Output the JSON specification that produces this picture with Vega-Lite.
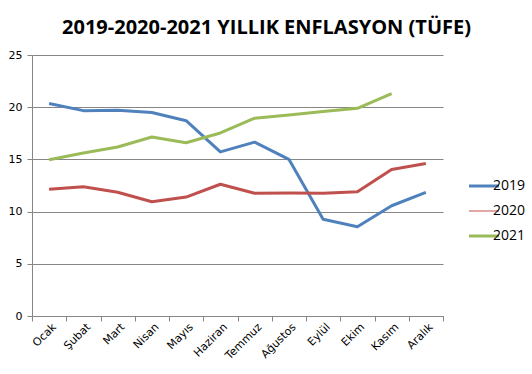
{
  "$schema": "https://vega.github.io/schema/vega-lite/v6.json",
  "width": 411,
  "height": 261,
  "autosize": "none",
  "padding": {"left": 32, "top": 55, "right": 89, "bottom": 58},
  "background": "white",
  "title": {
    "text": "2019-2020-2021 YILLIK ENFLASYON (TÜFE)",
    "font": "Open Sans",
    "fontSize": 20,
    "fontWeight": "bold",
    "color": "#000000",
    "anchor": "middle",
    "dx": 29,
    "offset": 11
  },
  "data": {
    "values": [
      {"ay": "Ocak", "yil": "2019", "deger": 20.35},
      {"ay": "Şubat", "yil": "2019", "deger": 19.67},
      {"ay": "Mart", "yil": "2019", "deger": 19.71},
      {"ay": "Nisan", "yil": "2019", "deger": 19.50},
      {"ay": "Mayıs", "yil": "2019", "deger": 18.71},
      {"ay": "Haziran", "yil": "2019", "deger": 15.72},
      {"ay": "Temmuz", "yil": "2019", "deger": 16.65},
      {"ay": "Ağustos", "yil": "2019", "deger": 15.01},
      {"ay": "Eylül", "yil": "2019", "deger": 9.26},
      {"ay": "Ekim", "yil": "2019", "deger": 8.55},
      {"ay": "Kasım", "yil": "2019", "deger": 10.56},
      {"ay": "Aralık", "yil": "2019", "deger": 11.84},
      {"ay": "Ocak", "yil": "2020", "deger": 12.15},
      {"ay": "Şubat", "yil": "2020", "deger": 12.37},
      {"ay": "Mart", "yil": "2020", "deger": 11.86},
      {"ay": "Nisan", "yil": "2020", "deger": 10.94},
      {"ay": "Mayıs", "yil": "2020", "deger": 11.39},
      {"ay": "Haziran", "yil": "2020", "deger": 12.62},
      {"ay": "Temmuz", "yil": "2020", "deger": 11.76},
      {"ay": "Ağustos", "yil": "2020", "deger": 11.77},
      {"ay": "Eylül", "yil": "2020", "deger": 11.75},
      {"ay": "Ekim", "yil": "2020", "deger": 11.89},
      {"ay": "Kasım", "yil": "2020", "deger": 14.03},
      {"ay": "Aralık", "yil": "2020", "deger": 14.60},
      {"ay": "Ocak", "yil": "2021", "deger": 14.97},
      {"ay": "Şubat", "yil": "2021", "deger": 15.61},
      {"ay": "Mart", "yil": "2021", "deger": 16.19},
      {"ay": "Nisan", "yil": "2021", "deger": 17.14},
      {"ay": "Mayıs", "yil": "2021", "deger": 16.59},
      {"ay": "Haziran", "yil": "2021", "deger": 17.53},
      {"ay": "Temmuz", "yil": "2021", "deger": 18.95},
      {"ay": "Ağustos", "yil": "2021", "deger": 19.25},
      {"ay": "Eylül", "yil": "2021", "deger": 19.58},
      {"ay": "Ekim", "yil": "2021", "deger": 19.89},
      {"ay": "Kasım", "yil": "2021", "deger": 21.31}
    ]
  },
  "mark": {"type": "line", "strokeWidth": 3, "strokeJoin": "round", "strokeCap": "butt"},
  "encoding": {
    "x": {
      "field": "ay",
      "type": "ordinal",
      "sort": ["Ocak", "Şubat", "Mart", "Nisan", "Mayıs", "Haziran", "Temmuz", "Ağustos", "Eylül", "Ekim", "Kasım", "Aralık"],
      "scale": {"type": "band", "paddingInner": 0, "paddingOuter": 0},
      "axis": {
        "title": null,
        "labelAngle": -45,
        "labelAlign": "right",
        "labelBaseline": "middle",
        "labelFont": "DejaVu Sans",
        "labelFontSize": 11,
        "labelColor": "#000000",
        "labelPadding": 4,
        "labelOffset": 5,
        "bandPosition": 0,
        "tickBand": "extent",
        "domainColor": "#868686",
        "tickColor": "#868686",
        "tickSize": 5,
        "grid": false
      }
    },
    "y": {
      "field": "deger",
      "type": "quantitative",
      "scale": {"domain": [0, 25], "nice": false, "zero": true},
      "axis": {
        "title": null,
        "values": [0, 5, 10, 15, 20, 25],
        "labelFont": "DejaVu Sans",
        "labelFontSize": 11,
        "labelColor": "#000000",
        "labelPadding": 5,
        "domainColor": "#868686",
        "tickColor": "#868686",
        "tickSize": 5,
        "gridColor": "#868686",
        "gridOpacity": 1
      }
    },
    "color": {
      "field": "yil",
      "type": "nominal",
      "scale": {"domain": ["2019", "2020", "2021"], "range": ["#4F81BD", "#C0504D", "#9BBB59"]},
      "legend": {
        "title": null,
        "orient": "none",
        "legendX": 445,
        "legendY": 124,
        "symbolType": "stroke",
        "symbolSize": 900,
        "symbolStrokeWidth": 3,
        "labelFont": "Open Sans",
        "labelFontSize": 14,
        "labelColor": "#000000",
        "labelOffset": 2,
        "rowPadding": 11,
        "encode": {
          "symbols": {"update": {"strokeWidth": {"signal": "datum.label === '2020' ? 1 : 3"}}}
        }
      }
    }
  },
  "config": {
    "view": {"stroke": null}
  }
}
